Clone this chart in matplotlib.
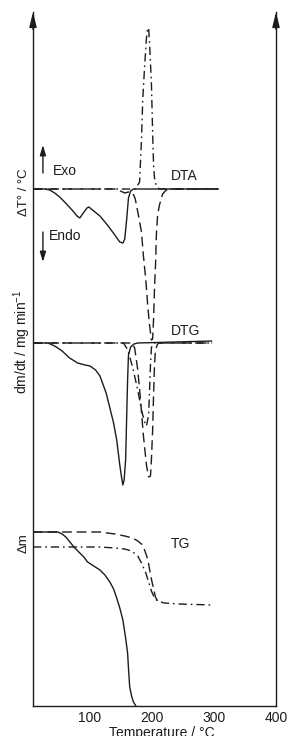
import matplotlib
matplotlib.use("Agg")
import matplotlib.pyplot as plt
import numpy as np

plt.rcParams['font.family'] = ['Liberation Sans', 'DejaVu Sans']
plt.rcParams['mathtext.fontset'] = 'custom'
plt.rcParams['mathtext.rm'] = 'Liberation Sans'
plt.rcParams['mathtext.it'] = 'Liberation Sans:italic'

# ---------------- data (temperature in °C, signals in arbitrary units) ----------------
# DTA curves (deviation from baseline, + = exo)
dta_solid_T = [8, 27, 35, 43, 51, 59, 71, 79, 83.5, 88, 95, 98, 104, 116, 128, 140, 148, 153, 156, 159, 162, 165.5, 170, 307]
dta_solid_v = [0, 0, -1, -4, -8, -13, -21, -27, -29, -25, -19, -18, -21, -27, -36, -46, -53, -54, -50, -31, -9, -2, 0, 0]

dta_dash_T = [8, 143, 149, 156, 162, 169, 173, 178, 183, 186, 190, 193, 196, 199, 201, 202.5, 204, 206, 207, 209, 212, 217, 223, 231, 307]
dta_dash_v = [0, 0, -2, -4, -3, -4, -10, -26, -43, -66, -91, -116, -136, -151, -150, -130, -100, -70, -46, -26, -16, -5, -1, 0, 0]

dta_dd_T = [8, 173, 180, 181.5, 183, 185, 188, 191, 193, 194.5, 196, 199, 201, 202.5, 204, 207, 212, 307]
dta_dd_v = [0, 0, 7, 29, 49, 89, 122, 151, 161, 161, 146, 106, 56, 24, 11, 3, 0, 0]

# DTG curves (deviation from baseline, - = mass loss rate)
dtg_solid_T = [8, 32, 43, 55, 67, 80, 92, 100, 109, 116, 126, 132, 138, 143, 148, 151, 153, 155, 157.4, 159, 160.6, 162, 165.5, 171, 177, 297]
dtg_solid_v = [0, 0, -3, -8, -15, -20, -22, -23, -27, -33, -50, -65, -80, -97, -122, -135, -142, -137, -117, -77, -37, -12, -4, -1, 0, 2]

dtg_dash_T = [8, 167, 172, 177, 181.5, 186, 191, 194.5, 197.5, 199, 201, 202.5, 204, 205.5, 209, 212, 297]
dtg_dash_v = [0, 0, -5, -27, -57, -92, -122, -134, -133, -117, -87, -52, -22, -7, -1, 0, 0]

dtg_dd_T = [8, 154, 161, 169, 177, 183, 188, 191, 194.5, 196, 197.5, 199, 201, 204, 297]
dtg_dd_v = [0, 0, -7, -25, -47, -67, -79, -83, -72, -47, -22, -5, -1, 0, 0]

# TG curves (mass change relative to initial level of the upper curves)
tg_solid_T = [8, 48, 55, 61, 67.5, 75.5, 83.5, 90, 96, 106, 116, 124, 132, 138, 143, 148, 153, 157.4, 160.6, 162.2, 164, 167, 170, 175]
tg_solid_v = [0, 0, -2, -5, -10, -16, -21, -25, -30, -34, -38, -43, -50, -57, -66, -76, -88, -106, -121, -138, -155, -164, -170, -175]

tg_dash_T = [8, 116, 140, 156, 169, 177, 183, 188, 193, 196, 199, 202.5, 205.5, 209]
tg_dash_v = [0, 0, -2, -4, -6, -9, -12, -18, -27, -37, -47, -57, -65, -69]

tg_dd_T = [8, 116, 140, 156, 167, 177, 183, 190, 194.5, 199, 204, 209, 220, 244, 297]
tg_dd_v = [-15, -15, -16, -17, -19, -24, -31, -41, -50, -59, -66, -69, -71, -72, -73]

x_ticks = [100, 200, 300, 400]
x_ticklabels = ['100', '200', '300', '400']

# ---------------- layout ----------------
W, H = 290, 736
fig = plt.figure(figsize=(W / 100, H / 100), dpi=100)
ax = fig.add_axes([33 / W, 30 / H, 243 / W, 694 / H])
ax.set_xlim(8, 400)
ax.set_ylim(0, 694)

base_dta, base_dtg, base_tg = 517, 363, 174
ink = '#1c1c1c'
lw = 1.0
solid = '-'
dashed = (0, (7, 3.5))
dashdot = (0, (6, 2.8, 1.2, 2.8))

def draw(T, v, base, ls):
    ax.plot(T, np.asarray(v) + base, color=ink, lw=lw, ls=ls,
            solid_capstyle='butt', dash_capstyle='butt')

draw(dta_solid_T, dta_solid_v, base_dta, solid)
draw(dta_dash_T, dta_dash_v, base_dta, dashed)
draw(dta_dd_T, dta_dd_v, base_dta, dashdot)
draw(dtg_solid_T, dtg_solid_v, base_dtg, solid)
draw(dtg_dash_T, dtg_dash_v, base_dtg, dashed)
draw(dtg_dd_T, dtg_dd_v, base_dtg, dashdot)
draw(tg_solid_T, tg_solid_v, base_tg, solid)
draw(tg_dash_T, tg_dash_v, base_tg, dashed)
draw(tg_dd_T, tg_dd_v, base_tg, dashdot)

# axes styling
for s in ['left', 'right', 'bottom']:
    ax.spines[s].set_color(ink)
    ax.spines[s].set_linewidth(1.0)
ax.spines['top'].set_visible(False)
ax.set_yticks([])
ax.set_xticks(x_ticks)
ax.set_xticklabels(x_ticklabels)
ax.tick_params(axis='x', length=0, pad=3.8, labelsize=10, colors=ink)
ax.set_xlabel('Temperature / °C', fontsize=10, color=ink)
ax.xaxis.set_label_coords(0.53, -0.0285)

for xa in (0, 1):
    ax.annotate('', xy=(xa, 1.0), xytext=(xa, 0.975), xycoords='axes fraction',
                arrowprops=dict(arrowstyle='-|>,head_length=0.9,head_width=0.22',
                                color=ink, lw=1.0, shrinkA=0, shrinkB=0))

# y labels
trans = ax.get_yaxis_transform()
ax.text(-0.036, 514, 'ΔT° / °C', transform=trans, rotation=90, ha='center', va='center',
        fontsize=9.5, color=ink)
ax.text(-0.045, 364, 'dm/dt / mg min$^{-1}$', transform=trans, rotation=90, ha='center',
        va='center', fontsize=10, color=ink)
ax.text(-0.038, 163, 'Δm', transform=trans, rotation=90, ha='center', va='center',
        fontsize=9.5, color=ink)

# Exo / Endo indicators
ax.annotate('', xy=(24, 561), xytext=(24, 533),
            arrowprops=dict(arrowstyle='-|>,head_length=0.6,head_width=0.18', color=ink, lw=1.0,
                            shrinkA=0, shrinkB=0))
ax.annotate('', xy=(24, 444), xytext=(24, 474),
            arrowprops=dict(arrowstyle='-|>,head_length=0.6,head_width=0.18', color=ink, lw=1.0,
                            shrinkA=0, shrinkB=0))
ax.text(40, 531, 'Exo', fontsize=10, color=ink, ha='left', va='baseline')
ax.text(33, 466, 'Endo', fontsize=10, color=ink, ha='left', va='baseline')
ax.text(231, 526, 'DTA', fontsize=10, color=ink, ha='left', va='baseline')
ax.text(231, 371, 'DTG', fontsize=10, color=ink, ha='left', va='baseline')
ax.text(231, 158, 'TG', fontsize=10, color=ink, ha='left', va='baseline')

fig.savefig('out.png', dpi=100)
